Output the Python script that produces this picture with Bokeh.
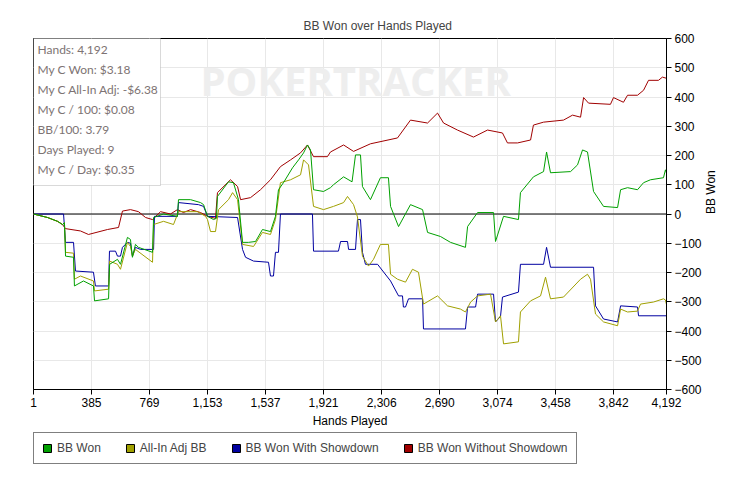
import math
from bokeh.plotting import figure
from bokeh.layouts import column
from bokeh.models import (FixedTicker, NumeralTickFormatter, Span, Label, BoxAnnotation,
                          Legend, LegendItem, Range1d)
from bokeh.embed import file_html
from bokeh.resources import INLINE

# ---------------- data ----------------
title_text = "BB Won over Hands Played"
x_label = "Hands Played"
y_label = "BB Won"

x_ticks = [1, 385, 769, 1153, 1537, 1921, 2306, 2690, 3074, 3458, 3842, 4192]
y_ticks = [-600, -500, -400, -300, -200, -100, 0, 100, 200, 300, 400, 500, 600]

series_names = ["BB Won", "All-In Adj BB", "BB Won With Showdown", "BB Won Without Showdown"]
series_colors = ["#00a000", "#a0a000", "#0000a0", "#a00000"]

won_hands = [1, 94, 160, 193, 206, 213, 266, 272, 332, 398, 405, 498, 505, 557, 577, 623, 643, 656, 676, 696,
             789, 796, 862, 954, 961, 1041, 1107, 1127, 1153, 1193, 1212, 1219, 1292, 1325, 1358, 1385, 1424,
             1471, 1517, 1570, 1603, 1623, 1656, 1716, 1756, 1789, 1815, 1835, 1855, 1921, 1967, 1987, 2054,
             2110, 2133, 2166, 2179, 2232, 2298, 2351, 2365, 2418, 2497, 2577, 2610, 2696, 2762, 2861, 2875,
             2941, 3047, 3060, 3113, 3212, 3225, 3311, 3378, 3398, 3424, 3557, 3603, 3636, 3669, 3709, 3775,
             3868, 3888, 3934, 4000, 4040, 4086, 4172, 4185, 4192]
won_bb = [0, -12, -25, -36, -30, -144, -148, -246, -229, -246, -297, -290, -172, -155, -172, -80, -87, -148, -104,
          -114, -131, -12, 0, -8, 49, 49, 39, 32, -8, -19, -15, 60, 110, 107, 49, -97, -97, -94, -53, -60, -8, 83,
          107, 158, 185, 209, 236, 219, 83, 77, 90, 100, 127, 110, 202, 202, 94, 49, 124, 124, 26, -43, 32, 15,
          -63, -77, -97, -114, -43, 5, 5, -94, -8, -19, 73, 127, 145, 212, 141, 145, 168, 219, 212, 77, 26, 22,
          83, 90, 83, 107, 117, 124, 151, 140]

adj_hands = [1, 94, 160, 193, 206, 213, 266, 272, 312, 398, 405, 498, 505, 557, 577, 623, 643, 656, 676, 789,
             796, 862, 928, 961, 1087, 1140, 1153, 1173, 1206, 1226, 1292, 1319, 1352, 1385, 1458, 1517, 1570,
             1603, 1636, 1703, 1769, 1789, 1822, 1855, 1921, 1987, 2054, 2080, 2120, 2146, 2179, 2219, 2252,
             2298, 2351, 2365, 2411, 2464, 2510, 2550, 2583, 2676, 2742, 2828, 2861, 2895, 2941, 3027, 3060,
             3093, 3113, 3212, 3225, 3292, 3358, 3391, 3424, 3510, 3623, 3669, 3689, 3722, 3775, 3868, 3888,
             3934, 4000, 4020, 4106, 4172, 4185, 4192]
adj_bb = [0, -12, -25, -36, -30, -131, -134, -223, -212, -229, -263, -257, -161, -172, -189, -97, -111, -144, -121,
          -165, -36, -25, -36, 8, 8, -8, -19, -60, -60, 15, 49, 73, 49, -104, -111, -63, -70, -19, 107, 117, 134,
          185, 168, 26, 15, 26, 39, 60, 32, -10, -144, -178, -155, -104, -104, -206, -223, -233, -189, -199, -308,
          -280, -314, -325, -335, -301, -280, -274, -369, -348, -444, -437, -335, -297, -280, -216, -290, -284,
          -223, -206, -223, -342, -369, -382, -325, -335, -332, -308, -301, -290, -294, -310]

sd_hands = [1, 200, 213, 266, 279, 398, 411, 498, 504, 544, 557, 577, 590, 623, 643, 656, 676, 709, 796, 802,
            954, 961, 1093, 1127, 1153, 1352, 1385, 1405, 1458, 1557, 1570, 1590, 1603, 1623, 1636, 1848, 1855,
            2020, 2034, 2080, 2087, 2133, 2146, 2166, 2179, 2199, 2279, 2365, 2418, 2444, 2450, 2464, 2484, 2577,
            2583, 2861, 2875, 2928, 2941, 3047, 3060, 3093, 3106, 3212, 3225, 3378, 3398, 3424, 3709, 3722, 3775,
            3868, 3888, 4000, 4007, 4192]
sd_bb = [0, 0, -97, -97, -195, -199, -246, -246, -127, -127, -144, -144, -114, -97, -100, -144, -114, -121, -121,
         -8, -8, 39, 32, 26, -8, -12, -121, -148, -161, -165, -212, -212, -131, -131, 0, 0, -127, -127, -94, -94,
         -121, -121, -19, -19, -131, -172, -172, -229, -280, -280, -318, -318, -290, -290, -393, -393, -318, -318,
         -274, -274, -369, -350, -284, -267, -172, -172, -114, -182, -182, -314, -359, -369, -314, -318, -348, -348]

nsd_hands = [1, 94, 160, 193, 213, 312, 365, 491, 564, 590, 643, 696, 743, 789, 842, 908, 954, 994, 1041, 1107,
             1153, 1206, 1219, 1305, 1352, 1372, 1438, 1504, 1570, 1636, 1703, 1769, 1815, 1855, 1947, 1967, 2054,
             2120, 2232, 2411, 2497, 2610, 2676, 2716, 2808, 2914, 3007, 3106, 3139, 3206, 3292, 3311, 3378, 3510,
             3570, 3623, 3643, 3676, 3821, 3841, 3907, 3934, 4000, 4040, 4073, 4139, 4165, 4192]
nsd_bb = [0, -12, -25, -36, -50, -58, -70, -53, -46, 10, 15, 8, -12, -19, 8, 0, 15, 5, 15, 5, -8, -15, 73, 117, 94,
          49, 56, 83, 117, 162, 185, 209, 236, 196, 196, 212, 236, 214, 240, 260, 321, 311, 345, 311, 287, 263, 287,
          277, 243, 243, 253, 304, 314, 321, 338, 331, 398, 379, 375, 398, 382, 406, 406, 423, 457, 457, 468, 464]

stats_lines = ["Hands: 4,192", "My C Won: $3.18", "My C All-In Adj: -$6.38", "My C / 100: $0.08",
               "BB/100: 3.79", "Days Played: 9", "My C / Day: $0.35"]

# ---------------- main figure ----------------
FONT = "Liberation Sans"
p = figure(width=745, height=430, output_backend="svg", toolbar_location=None,
           x_range=Range1d(1, 4192), y_range=Range1d(-600, 600), y_axis_location="right",
           min_border_left=33, min_border_top=38, min_border_right=79, min_border_bottom=39)
p.outline_line_color = "black"
p.outline_line_width = 1
p.background_fill_color = "white"
p.border_fill_color = "white"

p.title.text = title_text
p.title.text_font = FONT
p.title.text_font_size = "12px"
p.title.text_font_style = "normal"
p.title.align = "left"
p.title.offset = 270
p.title.standoff = 12

p.xaxis.ticker = FixedTicker(ticks=x_ticks)
p.xaxis.formatter = NumeralTickFormatter(format="0,0")
p.yaxis.ticker = FixedTicker(ticks=y_ticks)
p.xgrid.ticker = FixedTicker(ticks=x_ticks)
p.ygrid.ticker = FixedTicker(ticks=y_ticks)
for ax in (p.xaxis[0], p.yaxis[0]):
    ax.major_tick_out = 5
    ax.major_tick_in = 0
    ax.minor_tick_line_color = None
    ax.axis_line_color = "black"
    ax.major_tick_line_color = "black"
    ax.major_label_text_font = FONT
    ax.major_label_text_font_size = "12px"
    ax.major_label_text_color = "black"
    ax.major_label_standoff = 3
    ax.axis_label_text_font = FONT
    ax.axis_label_text_font_size = "12px"
    ax.axis_label_text_font_style = "normal"
    ax.axis_label_text_color = "black"
p.xaxis.axis_label = x_label
p.xaxis.axis_label_standoff = 4
p.yaxis.axis_label = y_label
p.yaxis.axis_label_standoff = 6
try:
    p.yaxis[0].axis_label_orientation = math.pi / 2
except Exception:
    pass

p.xgrid.grid_line_color = "#e8e8e8"
p.ygrid.grid_line_color = "#e8e8e8"

# watermark of the chart background
p.add_layout(Label(x=167, y=282, x_units="screen", y_units="screen", text="POKERTRACKER",
                   text_font="Open Sans", text_font_style="bold", text_font_size="40px",
                   text_color="#eeeeee", level="underlay"))

p.add_layout(Span(location=0, dimension="width", line_color="black", line_width=1, level="underlay"))

p.line(nsd_hands, nsd_bb, line_color=series_colors[3], line_width=1)
p.line(sd_hands, sd_bb, line_color=series_colors[2], line_width=1)
p.line(adj_hands, adj_bb, line_color=series_colors[1], line_width=1)
p.line(won_hands, won_bb, line_color=series_colors[0], line_width=1)

# stats box
p.add_layout(BoxAnnotation(left=0, right=127, top=353, bottom=204,
                           left_units="screen", right_units="screen", top_units="screen", bottom_units="screen",
                           fill_color="white", fill_alpha=1.0, line_color="#808080", line_width=1))
for i, t in enumerate(stats_lines):
    p.add_layout(Label(x=4, y=340 - 20 * i, x_units="screen", y_units="screen", text=t,
                       text_font="Lato", text_font_size="12px", text_color="#7d7373",
                       text_baseline="middle"))

# ---------------- legend strip ----------------
q = figure(width=745, height=54, output_backend="svg", toolbar_location=None,
           x_range=Range1d(0, 1), y_range=Range1d(0, 1),
           min_border_left=0, min_border_right=0, min_border_top=0, min_border_bottom=0)
q.axis.visible = False
q.grid.visible = False
q.outline_line_color = None
q.border_fill_color = "white"
swatch_x = [-5]   # legend-only swatches, kept outside the strip's range
swatch_y = [-5]
items = []
for name, col in zip(series_names, series_colors):
    r = q.rect(x=swatch_x, y=swatch_y, width=1, height=1, fill_color=col,
               line_color="black", line_width=1)
    items.append(LegendItem(label=name, renderers=[r]))
legend = Legend(items=items, orientation="horizontal", location=(0, 20),
                glyph_width=10, glyph_height=10, label_standoff=5, spacing=24, padding=8, margin=0,
                label_height=14, label_text_font=FONT, label_text_font_size="12px",
                border_line_color="black", border_line_width=1, background_fill_color="white")
q.add_layout(legend, "center")

open("out.html", "w").write(file_html(column(p, q, spacing=0), INLINE))
